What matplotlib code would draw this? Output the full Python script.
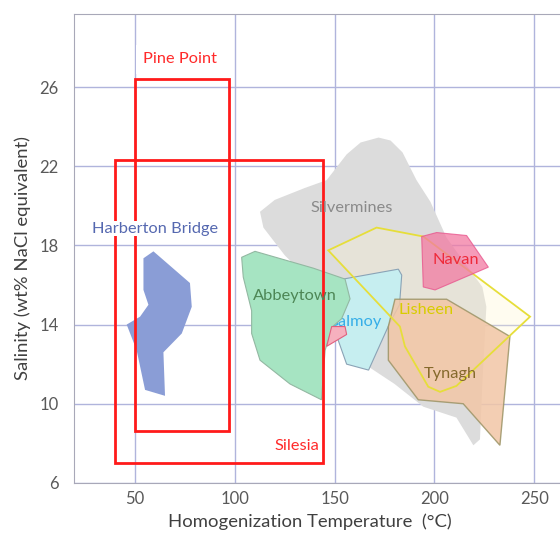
"""
plot.py — Fluid-inclusion fields: homogenization temperature vs salinity
"""

import matplotlib
matplotlib.use("Agg")
import matplotlib.pyplot as plt
from matplotlib.patches import Polygon, Rectangle

plt.rcParams["font.family"] = ["Lato", "DejaVu Sans"]

# Deposit fields, (temperature °C, salinity wt% NaCl eq.)
harberton_t = [59.2, 77.5, 78.4, 73.4, 64.2, 65.0, 55.0, 50.8, 45.8, 52.5, 56.7, 54.2, 54.2]
harberton_s = [17.7, 16.1, 14.9, 13.55, 12.6, 10.4, 10.7, 12.7, 14.0, 14.4, 15.0, 15.75, 17.35]

abbeytown_t = [103.4, 110.1, 139.3, 155.2, 157.7, 153.5, 149.0, 145.2, 143.4, 127.6, 112.6, 108.4, 108.4, 104.2]
abbeytown_s = [17.4, 17.7, 16.85, 16.3, 15.3, 14.3, 13.9, 12.7, 10.2, 11.0, 12.2, 13.55, 14.7, 16.4]

silvermines_t = [112.6, 120, 135, 146, 156, 163, 172, 178, 184, 191, 198, 206, 216, 224, 226,
                 224, 222.8, 219.5, 211, 194.4, 180, 165, 150, 140, 125, 114.3]
silvermines_s = [19.7, 20.3, 20.9, 21.3, 22.6, 23.2, 23.45, 23.3, 22.7, 21.3, 20.2, 18.4, 17.0, 15.9, 14.9,
                 11.0, 8.2, 7.9, 9.3, 9.85, 11.0, 12.0, 14.0, 16.0, 17.5, 18.9]

galmoy_t = [154.3, 181.9, 183.6, 182.5, 177.7, 167.0, 156.0, 151.8, 148.5]
galmoy_s = [16.3, 16.8, 16.5, 15.0, 14.1, 11.7, 12.0, 13.2, 13.7]

pink_t = [148.5, 155.2, 156.0, 146.0]
pink_s = [13.9, 13.9, 13.5, 12.9]

navan_t = [193.6, 201.1, 216.1, 227.0, 200.3, 194.4]
navan_s = [18.45, 18.65, 18.5, 16.9, 15.75, 15.9]

tynagh_t = [180.2, 206.1, 237.8, 232.8, 214.4, 191.9, 176.9, 176.9]
tynagh_s = [15.28, 15.28, 13.4, 7.9, 10.0, 10.2, 12.2, 13.9]

lisheen_t = [146.8, 171.0, 194.4, 247.9, 211.0, 202.8, 196.9, 185.2, 182.7]
lisheen_s = [17.75, 18.9, 18.45, 14.4, 10.9, 10.6, 10.86, 12.9, 13.9]

# Pine Point and Silesia ranges (t_min, t_max, s_min, s_max)
pine_point = (50, 97, 8.6, 26.4)
silesia = (40, 144, 7.0, 22.3)

x_ticks = [50, 100, 150, 200, 250]
y_ticks = [6, 10, 14, 18, 22, 26]

fig = plt.figure(figsize=(5.6, 5.33), dpi=100)
ax = fig.add_axes([0.1325, 0.094, 0.8675, 0.88])
ax.set_xlim(19.5, 262.9)
ax.set_ylim(6, 29.7)


def field(t, s, fc, ec="none", alpha=1.0, lw=0.8, z=2):
    ax.add_patch(Polygon(list(zip(t, s)), closed=True, facecolor=fc, edgecolor=ec,
                         alpha=alpha, lw=lw, zorder=z))


field(silvermines_t, silvermines_s, "#dcdcdc", z=2)
field(lisheen_t, lisheen_s, "#fff6d0", alpha=0.3, z=2.2)
field(galmoy_t, galmoy_s, "#c6eef0", ec="#8aa3b6", z=2.5)
ax.text(173.7, 14.15, "Galmoy", color="#35aee8", fontsize=11.8, ha="right", va="center", zorder=2.6)
field(abbeytown_t, abbeytown_s, "#a6e4c2", ec="#93b8a2", z=3)
field(pink_t, pink_s, "#f6b0be", ec="#e0607e", z=3.2)
field(harberton_t, harberton_s, "#8a9dd6", z=3)
field(tynagh_t, tynagh_s, "#f2c6a6", ec="#9c9466", alpha=0.85, lw=1.0, z=3)
ax.add_patch(Polygon(list(zip(lisheen_t, lisheen_s)), closed=True, facecolor="none",
                     edgecolor="#e6de3a", lw=1.3, zorder=3.5))
field(navan_t, navan_s, "#f27aa2", ec="#e8508a", alpha=0.75, z=4)

# red range boxes
for t0, t1, s0, s1 in (pine_point, silesia):
    ax.add_patch(Rectangle((t0, s0), t1 - t0, s1 - s0, fill=False, edgecolor="#ff1a1a",
                           lw=2.0, zorder=5))

# labels
lab = dict(fontsize=11.8, ha="center", va="center", zorder=6)
ax.text(72.5, 27.4, "Pine Point", color="#ff2a2a",
        bbox=dict(boxstyle="square,pad=0.45", fc="white", ec="none"), **lab)
ax.text(131, 7.85, "Silesia", color="#ff2a2a", **lab)
ax.text(60, 18.85, "Harberton Bridge", color="#5568b0",
        bbox=dict(boxstyle="square,pad=0.05", fc="white", ec="none"), **lab)
ax.text(130, 15.45, "Abbeytown", color="#4d8655", **lab)
ax.text(158.5, 19.9, "Silvermines", color="#8a8a8a", **lab)
ax.text(210.5, 17.25, "Navan", color="#ee2a3a", **lab)
ax.text(196, 14.75, "Lisheen", color="#d8cc00", **lab)
ax.text(207.8, 11.5, "Tynagh", color="#85692c", **lab)

# axes styling
ax.set_xticks(x_ticks)
ax.set_yticks(y_ticks)
ax.grid(True, color="#b0b4dc", lw=1.0, zorder=0)
ax.set_axisbelow(True)
ax.tick_params(length=0, labelsize=12, labelcolor="#595959")
ax.tick_params(axis="x", pad=6)
ax.tick_params(axis="y", pad=11)
for side in ("top", "left", "bottom"):
    ax.spines[side].set_color("#a8a8b8")
ax.spines["right"].set_visible(False)
ax.set_xlabel("Homogenization Temperature  (°C)", fontsize=13.3, color="#404040")
ax.set_ylabel("Salinity (wt% NaCl equivalent)", fontsize=13.3, color="#404040")
ax.xaxis.set_label_coords(0.486, -0.066)
ax.yaxis.set_label_coords(-0.088, 0.479)

fig.savefig("out.png", dpi=100)
